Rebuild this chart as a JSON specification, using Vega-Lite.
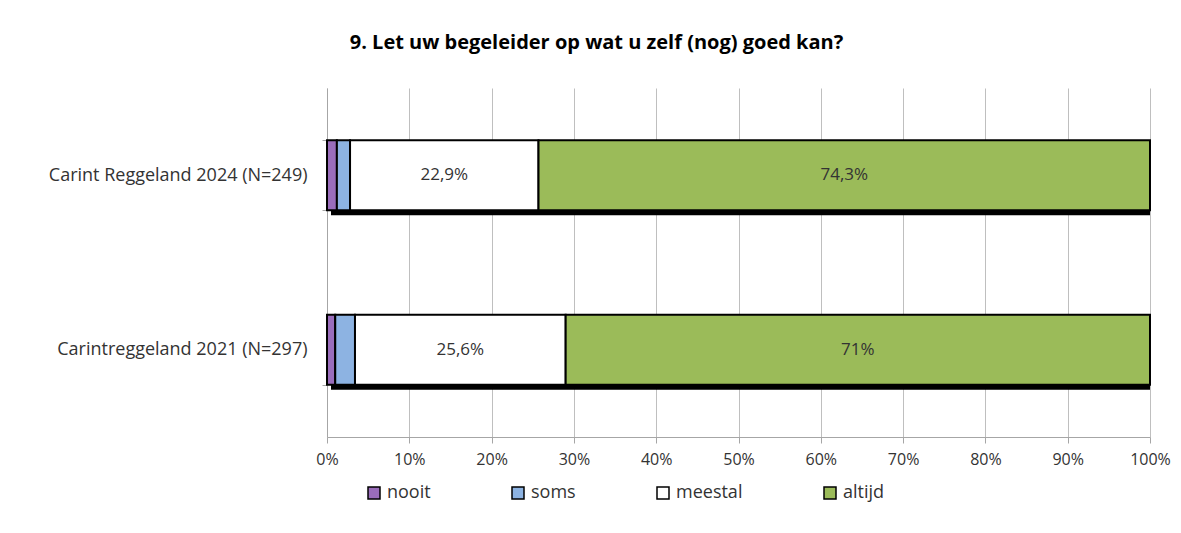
{
  "$schema": "https://vega.github.io/schema/vega-lite/v6.json",
  "autosize": {"type": "none"},
  "width": 823,
  "height": 349,
  "padding": {"left": 327, "top": 88, "right": 31, "bottom": 96},
  "config": {
    "locale": {"number": {"decimal": ",", "thousands": ".", "grouping": [3], "currency": ["€ ", ""]}},
    "view": {"stroke": null},
    "font": "Open Sans"
  },
  "title": {
    "text": "9. Let uw begeleider op wat u zelf (nog) goed kan?",
    "fontSize": 20,
    "fontWeight": "bold",
    "color": "#000000",
    "anchor": "middle",
    "frame": "group",
    "dx": -142,
    "offset": 26
  },
  "data": {
    "values": [
      {"groep": "Carint Reggeland 2024 (N=249)", "cat": "nooit", "k": 1, "pct": 0.012},
      {"groep": "Carint Reggeland 2024 (N=249)", "cat": "soms", "k": 2, "pct": 0.016},
      {"groep": "Carint Reggeland 2024 (N=249)", "cat": "meestal", "k": 3, "pct": 0.229},
      {"groep": "Carint Reggeland 2024 (N=249)", "cat": "altijd", "k": 4, "pct": 0.743},
      {"groep": "Carintreggeland 2021 (N=297)", "cat": "nooit", "k": 1, "pct": 0.010},
      {"groep": "Carintreggeland 2021 (N=297)", "cat": "soms", "k": 2, "pct": 0.024},
      {"groep": "Carintreggeland 2021 (N=297)", "cat": "meestal", "k": 3, "pct": 0.256},
      {"groep": "Carintreggeland 2021 (N=297)", "cat": "altijd", "k": 4, "pct": 0.710}
    ]
  },
  "transform": [
    {"stack": "pct", "groupby": ["groep"], "sort": [{"field": "k", "order": "ascending"}], "as": ["x0", "x1"]}
  ],
  "encoding": {
    "y": {
      "field": "groep",
      "type": "nominal",
      "sort": ["Carint Reggeland 2024 (N=249)", "Carintreggeland 2021 (N=297)"],
      "scale": {"paddingInner": 0.6, "paddingOuter": 0.3},
      "axis": {
        "title": null,
        "grid": false,
        "domainColor": "#a6a6a6",
        "tickColor": "#a6a6a6",
        "tickSize": 5,
        "tickBand": "extent",
        "labelFontSize": 18,
        "labelColor": "#333333",
        "labelPadding": 15,
        "labelLimit": 400
      }
    }
  },
  "layer": [
    {
      "transform": [{"filter": "datum.k == 4"}],
      "mark": {"type": "bar", "color": "#000000", "xOffset": 4, "yOffset": 5, "clip": true},
      "encoding": {
        "x": {"field": "x1", "type": "quantitative"}
      }
    },
    {
      "mark": {"type": "bar", "stroke": "#000000", "strokeWidth": 2},
      "encoding": {
        "x": {
          "field": "x0",
          "type": "quantitative",
          "scale": {"domain": [0, 1], "nice": false},
          "axis": {
            "title": null,
            "format": "%",
            "values": [0, 0.1, 0.2, 0.3, 0.4, 0.5, 0.6, 0.7, 0.8, 0.9, 1],
            "grid": true,
            "gridColor": "#bfbfbf",
            "domainColor": "#a6a6a6",
            "tickColor": "#a6a6a6",
            "tickSize": 6,
            "labelFlush": false,
            "labelFontSize": 16,
            "labelColor": "#333333",
            "labelPadding": 8
          }
        },
        "x2": {"field": "x1"},
        "color": {
          "field": "cat",
          "type": "nominal",
          "scale": {
            "domain": ["nooit", "soms", "meestal", "altijd"],
            "range": ["#9a6dbb", "#8db3e2", "#ffffff", "#9bbb59"]
          },
          "legend": {
            "title": null,
            "orient": "none",
            "legendX": 38,
            "legendY": 396,
            "direction": "horizontal",
            "symbolType": "square",
            "symbolSize": 144,
            "symbolStrokeColor": "#000000",
            "symbolStrokeWidth": 1.5,
            "symbolOpacity": 1,
            "labelFontSize": 18,
            "labelColor": "#333333",
            "labelOffset": 4,
            "columnPadding": 78
          }
        }
      }
    },
    {
      "transform": [
        {"filter": "datum.pct > 0.1"},
        {"calculate": "(datum.x0 + datum.x1) / 2", "as": "mid"}
      ],
      "mark": {"type": "text", "fontSize": 17, "color": "#333333"},
      "encoding": {
        "x": {"field": "mid", "type": "quantitative"},
        "text": {"field": "pct", "type": "quantitative", "format": ".1~%"}
      }
    }
  ]
}
